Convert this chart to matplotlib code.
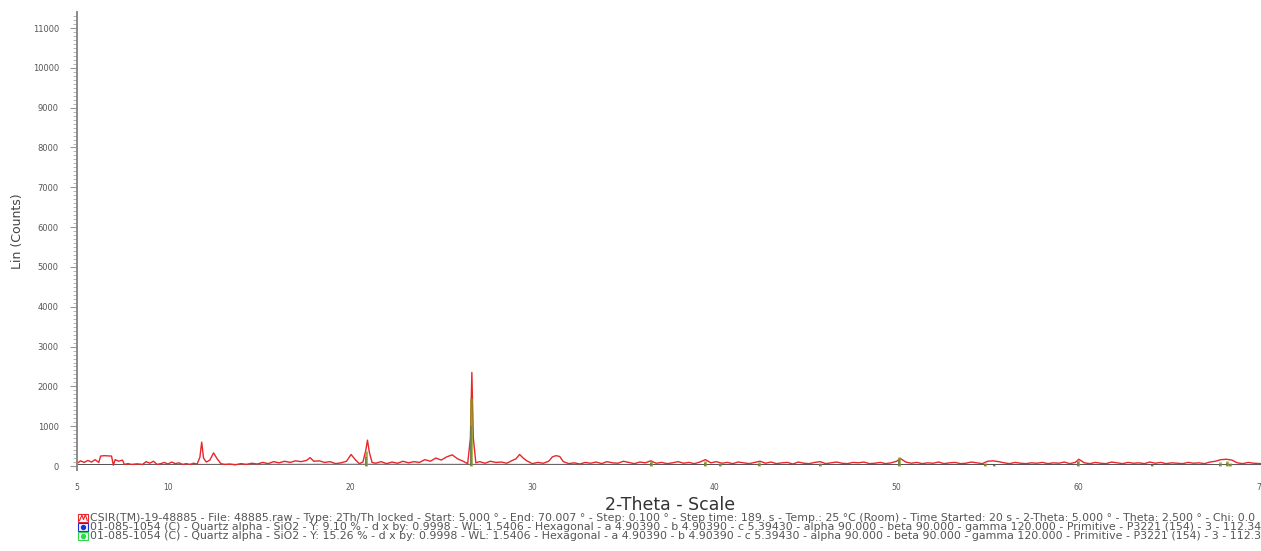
import matplotlib.pyplot as plt
from matplotlib.patches import Rectangle
from matplotlib.lines import Line2D

two_theta = [5.0, 5.2, 5.4, 5.6, 5.8, 6.0, 6.2, 6.3, 6.5, 6.7, 6.9, 7.0, 7.1, 7.3, 7.5, 7.6,
             7.8, 8.0, 8.3, 8.6, 8.8, 9.0, 9.2, 9.4, 9.6, 9.8, 10.0, 10.2, 10.4, 10.6, 10.8,
             11.0, 11.2, 11.4, 11.6, 11.75, 11.85, 11.95, 12.1, 12.3, 12.5, 12.7, 12.9, 13.1,
             13.4, 13.7, 14.0, 14.3, 14.6, 14.9, 15.2, 15.5, 15.8, 16.1, 16.4, 16.7, 17.0,
             17.3, 17.6, 17.8, 18.0, 18.3, 18.6, 18.9, 19.2, 19.5, 19.8, 20.05, 20.3, 20.5,
             20.7, 20.85, 20.95, 21.05, 21.2, 21.4, 21.7, 22.0, 22.3, 22.6, 22.9, 23.2, 23.5,
             23.8, 24.1, 24.4, 24.7, 25.0, 25.3, 25.6, 25.9, 26.2, 26.45, 26.6, 26.68, 26.76,
             26.9, 27.1, 27.4, 27.7, 28.0, 28.3, 28.6, 28.9, 29.1, 29.3, 29.5, 29.7, 30.0,
             30.3, 30.6, 30.9, 31.1, 31.3, 31.5, 31.7, 32.0, 32.3, 32.6, 32.9, 33.2, 33.5,
             33.8, 34.1, 34.4, 34.7, 35.0, 35.3, 35.6, 35.9, 36.2, 36.5, 36.8, 37.1, 37.4,
             37.7, 38.0, 38.3, 38.6, 38.9, 39.2, 39.5, 39.8, 40.1, 40.4, 40.7, 41.0, 41.3,
             41.6, 41.9, 42.2, 42.5, 42.8, 43.1, 43.4, 43.7, 44.0, 44.3, 44.6, 44.9, 45.2,
             45.5, 45.8, 46.1, 46.4, 46.7, 47.0, 47.3, 47.6, 47.9, 48.2, 48.5, 48.8, 49.1,
             49.4, 49.7, 50.0, 50.2, 50.5, 50.8, 51.1, 51.4, 51.7, 52.0, 52.3, 52.6, 52.9,
             53.2, 53.5, 53.8, 54.1, 54.4, 54.7, 55.0, 55.3, 55.6, 55.9, 56.2, 56.5, 56.8,
             57.1, 57.4, 57.7, 58.0, 58.3, 58.6, 58.9, 59.2, 59.5, 59.8, 60.0, 60.3, 60.6,
             60.9, 61.2, 61.5, 61.8, 62.1, 62.4, 62.7, 63.0, 63.3, 63.6, 63.9, 64.2, 64.5,
             64.8, 65.1, 65.4, 65.7, 66.0, 66.3, 66.6, 66.9, 67.2, 67.5, 67.8, 68.1, 68.4,
             68.7, 69.0, 69.3, 69.6, 70.0]
counts = [60, 130, 90, 140, 100, 160, 90, 250, 260, 255, 250, 20, 160, 120, 150, 40,
          60, 40, 55, 40, 110, 70, 120, 40, 60, 90, 50, 100, 60, 80, 40,
          60, 40, 70, 50, 220, 600, 200, 100, 150, 330, 180, 60, 40,
          50, 30, 60, 40, 70, 50, 90, 60, 110, 80, 120, 90, 130,
          110, 140, 210, 120, 130, 90, 110, 60, 80, 120, 290, 150, 60,
          100, 380, 650, 350, 90, 70, 110, 60, 100, 70, 120, 80, 110,
          90, 160, 120, 200, 150, 230, 280, 180, 120, 60, 700, 2350, 700,
          80, 110, 70, 120, 90, 100, 70, 140, 180, 290, 200, 130, 60,
          90, 70, 120, 230, 260, 240, 110, 60, 80, 50, 90, 70, 100,
          60, 110, 80, 70, 120, 90, 60, 100, 80, 130, 70, 90, 60,
          80, 110, 70, 90, 60, 100, 160, 80, 110, 70, 90, 60, 100,
          80, 60, 90, 120, 70, 100, 60, 80, 90, 50, 100, 70, 60,
          90, 110, 60, 80, 100, 70, 60, 90, 80, 100, 60, 70, 90,
          60, 80, 120, 190, 100, 70, 90, 60, 80, 70, 100, 60, 80,
          90, 60, 70, 100, 80, 60, 120, 130, 110, 80, 60, 90, 70,
          60, 80, 70, 90, 60, 80, 70, 100, 60, 90, 170, 80, 60,
          90, 70, 60, 100, 80, 60, 90, 70, 80, 60, 100, 70, 90,
          60, 80, 70, 60, 90, 70, 80, 60, 100, 120, 160, 170, 150,
          80, 60, 90, 70, 60]

# background trace under the scan
bg_theta = [5.0, 20.0, 40.0, 70.0]
bg_counts = [40, 45, 40, 35]

# quartz alpha reference lines (01-085-1054)
quartz_theta = [20.86, 26.64, 36.54, 39.47, 40.29, 42.45, 45.79, 50.14, 54.87,
                55.33, 59.96, 64.04, 67.74, 68.14, 68.32]
quartz_rel = [22, 100, 8, 8, 4, 6, 4, 14, 4, 2, 9, 2, 6, 7, 5]
blue_scale = 10.0   # Y: 9.10 %
green_scale = 17.0  # Y: 15.26 %

yticks = list(range(0, 12000, 1000))
xticks = [5, 10, 20, 30, 40, 50, 60, 70]

legend_lines = [
    "CSIR(TM)-19-48885 - File: 48885.raw - Type: 2Th/Th locked - Start: 5.000 \u00b0 - End: 70.007 \u00b0 - "
    "Step: 0.100 \u00b0 - Step time: 189. s - Temp.: 25 \u00b0C (Room) - Time Started: 20 s - "
    "2-Theta: 5.000 \u00b0 - Theta: 2.500 \u00b0 - Chi: 0.0",
    "01-085-1054 (C) - Quartz alpha - SiO2 - Y: 9.10 % - d x by: 0.9998 - WL: 1.5406 - Hexagonal - "
    "a 4.90390 - b 4.90390 - c 5.39430 - alpha 90.000 - beta 90.000 - gamma 120.000 - Primitive - "
    "P3221 (154) - 3 - 112.34",
    "01-085-1054 (C) - Quartz alpha - SiO2 - Y: 15.26 % - d x by: 0.9998 - WL: 1.5406 - Hexagonal - "
    "a 4.90390 - b 4.90390 - c 5.39430 - alpha 90.000 - beta 90.000 - gamma 120.000 - Primitive - "
    "P3221 (154) - 3 - 112.3",
]
legend_colors = ["#e8262c", "#1f2fd8", "#2fd84a"]

fig = plt.figure(figsize=(12.61, 5.51), dpi=100)
ax = fig.add_axes([0.061, 0.147, 0.939, 0.831])

ax.plot(bg_theta, bg_counts, color="#333333", lw=0.6, zorder=1)
ax.plot(two_theta, counts, color="#e8262c", lw=1.0, zorder=2)
ax.vlines(quartz_theta, 0, [r * blue_scale for r in quartz_rel], color="#1f2fd8", lw=1.2, zorder=3)
ax.vlines(quartz_theta, 0, [r * green_scale for r in quartz_rel], color="#8a9a1e", lw=2.0,
          alpha=0.8, zorder=4)

ax.set_xlim(5, 70)
ax.set_ylim(-100, 11400)
for side in ["top", "right", "bottom"]:
    ax.spines[side].set_visible(False)
ax.spines["left"].set_color("#8a8a8a")
ax.spines["left"].set_linewidth(1.4)

ax.set_yticks(yticks)
ax.set_yticks(range(0, 11400, 100), minor=True)
ax.tick_params(axis="y", which="major", length=5, width=0.8, color="#999999",
               labelsize=6, labelcolor="#555555", pad=8)
ax.tick_params(axis="y", which="minor", length=3, width=0.6, color="#aaaaaa")
ax.set_xticks(xticks)
ax.tick_params(axis="x", length=0, labelsize=5.5, labelcolor="#555555", pad=9)

fig.text(0.014, 0.58, "Lin (Counts)", rotation=90, ha="center", va="center",
         fontsize=9, color="#444444")
fig.text(0.531, 0.083, "2-Theta - Scale", ha="center", va="center", fontsize=12.5,
         color="#333333")

# legend rows with small boxed icons
row_y = [0.060, 0.043, 0.027]
for i, (txt, col) in enumerate(zip(legend_lines, legend_colors)):
    y = row_y[i]
    fig.add_artist(Rectangle((0.0620, y - 0.0075), 0.0080, 0.015, transform=fig.transFigure,
                             facecolor="white" if i == 0 else "#eef0ff", edgecolor=col, lw=0.8))
    if i == 0:
        fig.add_artist(Line2D([0.0630, 0.0650, 0.0662, 0.0677, 0.0692],
                              [y - 0.005, y + 0.005, y - 0.003, y + 0.006, y - 0.005],
                              transform=fig.transFigure, color=col, lw=0.8))
    else:
        fig.add_artist(Line2D([0.0660], [y], transform=fig.transFigure, marker="o",
                              markersize=2.8, color=col, lw=0))
    fig.text(0.0715, y, txt, ha="left", va="center", fontsize=7.9, color="#555555")

fig.savefig("out.png", dpi=100)
